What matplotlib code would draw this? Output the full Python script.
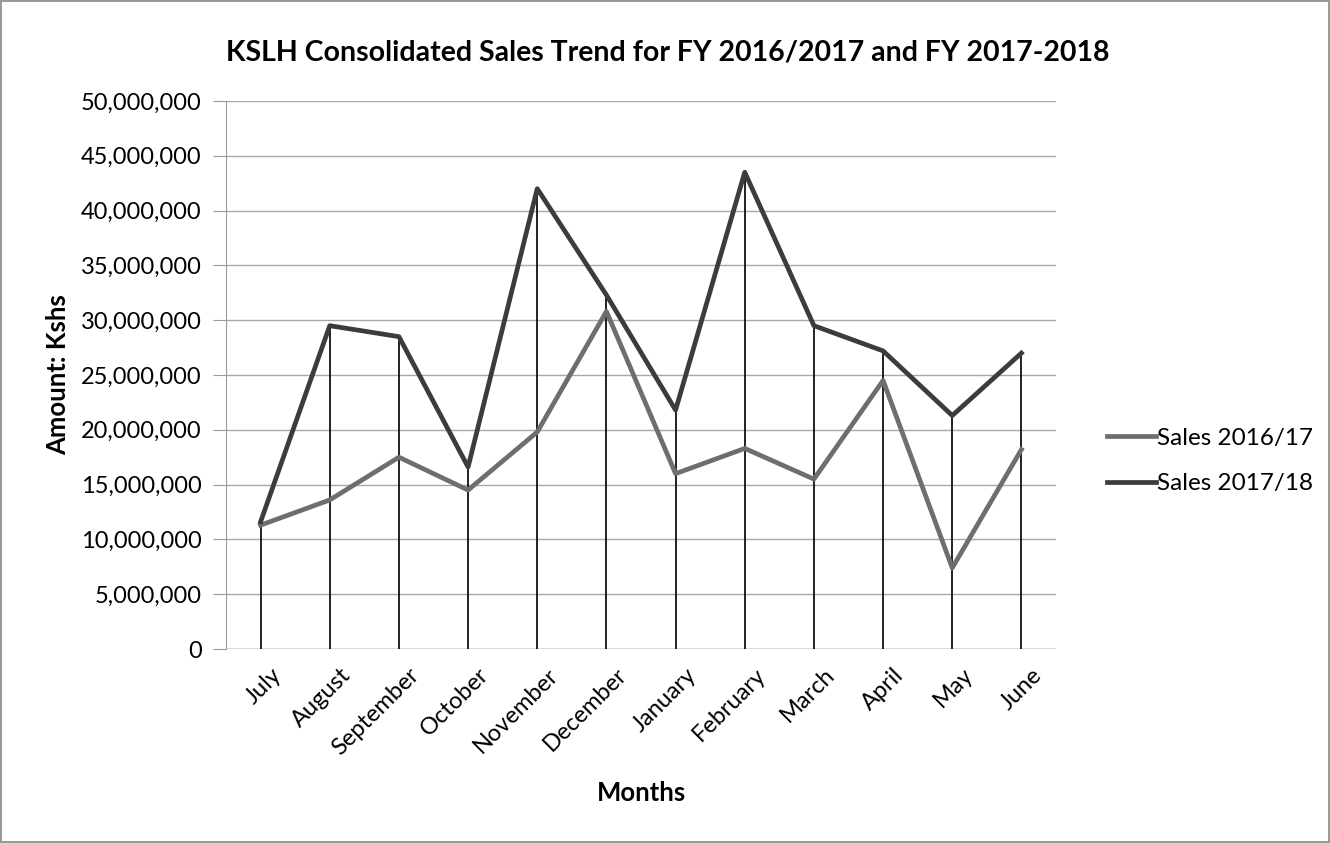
import matplotlib
matplotlib.use("Agg")
import matplotlib.pyplot as plt
from matplotlib.ticker import FuncFormatter, MultipleLocator
from matplotlib.transforms import ScaledTranslation

months = ["July", "August", "September", "October", "November", "December",
          "January", "February", "March", "April", "May", "June"]
sales_1617 = [11.3, 13.6, 17.5, 14.5, 19.8, 30.8, 16.0, 18.3, 15.5, 24.5, 7.4, 18.2]
sales_1718 = [11.6, 29.5, 28.5, 16.6, 42.0, 32.3, 21.8, 43.5, 29.5, 27.2, 21.3, 27.0]
sales_1617 = [v * 1e6 for v in sales_1617]
sales_1718 = [v * 1e6 for v in sales_1718]

plt.rcParams['font.family'] = ['Lato', 'DejaVu Sans']

fig = plt.figure(figsize=(13.3, 8.43), dpi=100)
fig.patch.set_facecolor("white")
fig.patch.set_edgecolor("#9a9a9a")
fig.patch.set_linewidth(1.5)

ax = fig.add_axes([226 / 1330, 1 - 649 / 843, (1056 - 226) / 1330, (649 - 101) / 843])
x = list(range(len(months)))

ax.vlines(x, 0, [max(a, b) for a, b in zip(sales_1617, sales_1718)],
          colors="#111111", linewidth=1.3, zorder=2)
ax.plot(x, sales_1617, color="#6e6e6e", linewidth=3.4, label="Sales 2016/17", zorder=3)
ax.plot(x, sales_1718, color="#3c3c3c", linewidth=3.4, label="Sales 2017/18", zorder=4)

ax.set_xlim(-0.5, len(months) - 0.5)
ax.set_ylim(0, 50e6)
ax.yaxis.set_major_locator(MultipleLocator(5e6))
ax.yaxis.set_major_formatter(FuncFormatter(lambda v, p: f"{int(v):,}"))
ax.grid(axis="y", color="#a8a8a8", linewidth=1.0, zorder=0)

for s in ["top", "right", "bottom"]:
    ax.spines[s].set_visible(False)
ax.spines["left"].set_color("#9a9a9a")
ax.axhline(0, color="#9a9a9a", linewidth=1.0, zorder=1)

ax.set_xticks(x)
ax.set_xticklabels(months, rotation=45, ha="right", rotation_mode="anchor", fontsize=17)
ax.tick_params(axis="x", length=0, pad=11)
offset = ScaledTranslation(7 / 72, 0, fig.dpi_scale_trans)
for lab in ax.get_xticklabels():
    lab.set_transform(lab.get_transform() + offset)
ax.tick_params(axis="y", labelsize=17, length=9.5, color="#9a9a9a", pad=8)

ax.set_xlabel("Months", fontsize=18.5, fontweight="bold", labelpad=16)
ax.set_ylabel("Amount: Kshs", fontsize=18.5, fontweight="bold", labelpad=8)
fig.suptitle("KSLH Consolidated Sales Trend for FY 2016/2017 and FY 2017-2018",
             fontsize=20.5, fontweight="bold", x=0.502, y=0.953)

leg = ax.legend(loc="center left", bbox_to_anchor=(1.035, 0.343), frameon=False,
                fontsize=17.5, handlelength=2.0, handletextpad=0.05, labelspacing=1.0)

fig.savefig("out.png", dpi=100, facecolor=fig.get_facecolor(), edgecolor=fig.get_edgecolor())
